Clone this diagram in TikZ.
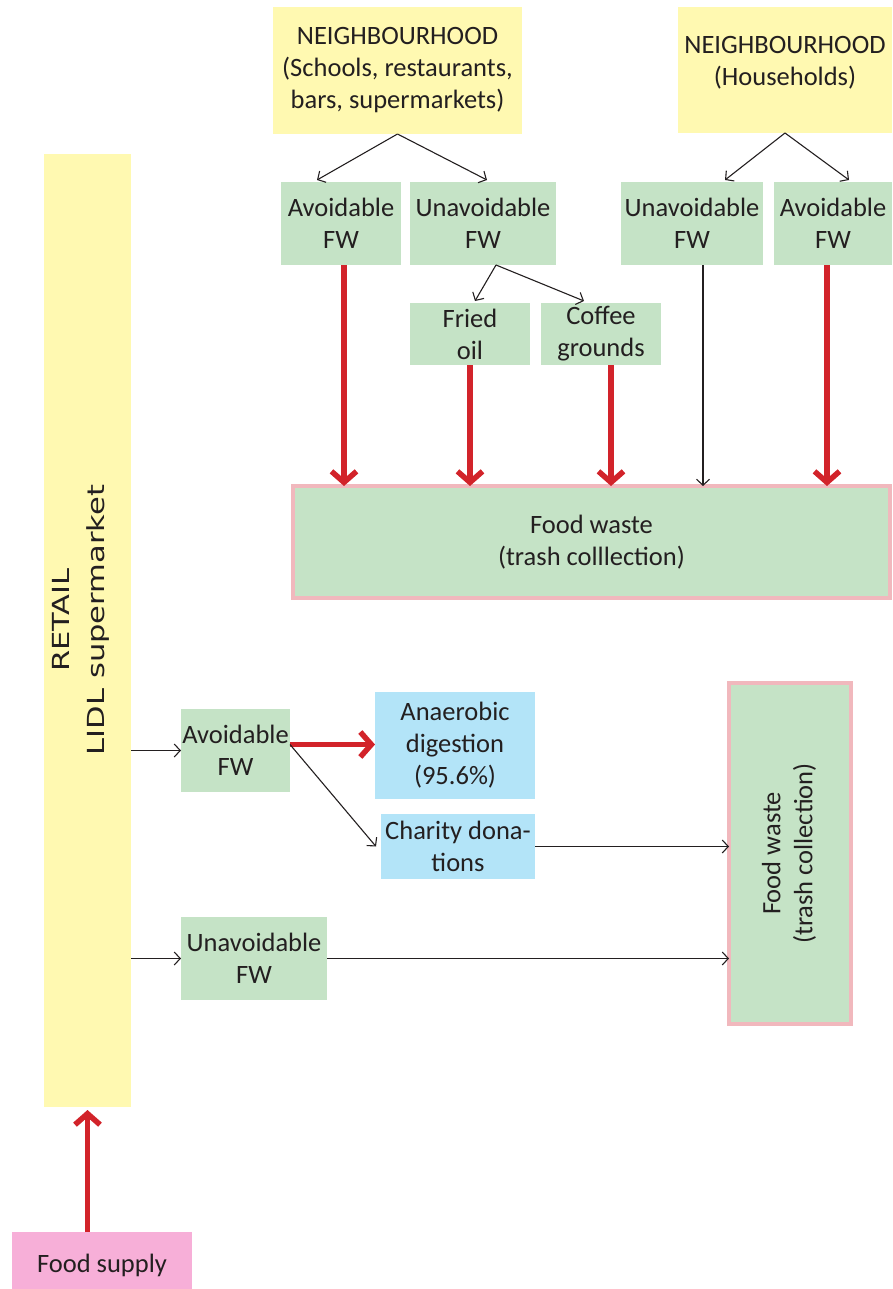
\documentclass[tikz,border=0pt]{standalone}
\usepackage{fontspec}
\setmainfont{Carlito}
\newfontfamily\retailfont[FakeStretch=1.3]{DejaVu Sans}
\usetikzlibrary{arrows.meta,calc}
\definecolor{cyellow}{HTML}{FFF9B1}
\definecolor{cgreen}{HTML}{C5E3C6}
\definecolor{cblue}{HTML}{B3E4F8}
\definecolor{cpink}{HTML}{F7AFD8}
\definecolor{cborder}{HTML}{F1B8BD}
\definecolor{cred}{HTML}{D2232A}
\definecolor{ctext}{HTML}{231F20}
\begin{document}
\begin{tikzpicture}[x=1pt,y=-1pt,
  every node/.style={inner sep=0pt,outer sep=0pt,text=ctext,font=\fontsize{26.5}{32}\selectfont,align=center},
  box/.style={rectangle},
  ybox/.style={box,fill=cyellow},
  gbox/.style={box,fill=cgreen},
  bbox/.style={box,fill=cblue},
  pbox/.style={box,fill=cpink},
  wastebox/.style={box,fill=cgreen,draw=cborder,line width=4pt},
  thin/.style={draw=ctext,line width=1.1pt,-{Straight Barb[length=6pt,width=13pt]}},
  thick/.style={draw=cred,line width=5.5pt,-{Straight Barb[length=11pt,width=25pt]}}
]
\useasboundingbox (0,0) rectangle (892,1289);

% top
\node[ybox,minimum width=249pt,minimum height=127pt] (n1) at (397.5,70.5) {NEIGHBOURHOOD\\(Schools, restaurants,\\bars, supermarkets)};
\node[ybox,minimum width=214pt,minimum height=126pt] (n2) at (785,70) {};
\node (n2t) at (785,63) {NEIGHBOURHOOD\\(Households)};

\node[gbox,minimum width=120pt,minimum height=83pt] (a1) at (341,223.5) {Avoidable\\FW};
\node[gbox,minimum width=146pt,minimum height=83pt] (u1) at (483,223.5) {Unavoidable\\FW};
\node[gbox,minimum width=142pt,minimum height=83pt] (u2) at (692,223.5) {Unavoidable\\FW};
\node[gbox,minimum width=118pt,minimum height=83pt] (a2) at (833,223.5) {Avoidable\\FW};

\node[gbox,minimum width=120pt,minimum height=62pt] (fo) at (470,334) {Fried\\oil};
\node[gbox,minimum width=120pt,minimum height=62pt] (cg) at (601,334) {Coffee\\grounds};

\node[wastebox,minimum width=597pt,minimum height=112pt] (fw1) at (591.5,542) {Food waste\\(trash colllection)};

% retail
\node[ybox,minimum width=87pt,minimum height=953pt] (retail) at (87.5,630.5) {};
\node[font=\retailfont\fontsize{23.5}{35}\selectfont] (retailt) at (80,620) {\rotatebox{90}{\begin{tabular}{@{}c@{}}RETAIL\\LIDL supermarket\end{tabular}}};

\node[gbox,minimum width=109pt,minimum height=83pt] (a3) at (235.5,750.5) {Avoidable\\FW};
\node[bbox,minimum width=160pt,minimum height=107pt] (ad) at (455,745.5) {Anaerobic\\digestion\\(95.6\%)};
\node[bbox,minimum width=154pt,minimum height=65pt] (ch) at (458,846.5) {Charity dona-\\tions};
\node[gbox,minimum width=146pt,minimum height=83pt] (u3) at (254,958.5) {Unavoidable\\FW};

\node[wastebox,minimum width=122pt,minimum height=341pt] (fw2) at (790,853.5) {\rotatebox{90}{\begin{tabular}{@{}c@{}}Food waste\\(trash collection)\end{tabular}}};

\node[pbox,minimum width=180pt,minimum height=57pt] (fs) at (102,1260.5) {};
\node (fst) at (102,1265) {Food supply};

% helper points
\coordinate (s1) at ($(a1.south)+(3,0)$);
\coordinate (s2) at (fo.south);
\coordinate (s3) at ($(cg.south)+(10,0)$);
\coordinate (s4) at ($(u2.south)+(11,0)$);
\coordinate (s5) at ($(a2.south)+(-6,0)$);
\coordinate (u1b) at ($(u1.south)+(13,0)$);
\coordinate (a3r) at ($(a3.east)+(0,-6)$);

% connectors top
\draw[thin] (n1.south) -- ($(a1.north)+(-24,-2)$);
\draw[thin] (n1.south) -- ($(u1.north)+(4,-2)$);
\draw[thin] (n2.south) -- ($(u2.north)+(33,-2)$);
\draw[thin] (n2.south) -- ($(a2.north)+(16,-2)$);
\draw[thin] (u1b) -- ($(fo.north)+(5,-2)$);
\draw[thin] (u1b) -- ($(cg.north)+(-17,-2)$);

\draw[thick] (s1) -- (s1 |- fw1.north);
\draw[thick] (s2) -- (s2 |- fw1.north);
\draw[thick] (s3) -- (s3 |- fw1.north);
\draw[thin]  (s4) -- (s4 |- fw1.north);
\draw[thick] (s5) -- (s5 |- fw1.north);

% connectors retail
\draw[thin] (retail.east |- a3.west) -- (a3.west);
\draw[thin] (retail.east |- u3.west) -- (u3.west);
\draw[thick] (a3r) -- (a3r -| ad.west);
\draw[thin] (a3r) -- ($(ch.west)+(-5,0)$);
\draw[thin] (ch.east) -- (ch.east -| fw2.west);
\draw[thin] (u3.east) -- (u3.east -| fw2.west);
\draw[thick] (fs.north -| retail.south) -- ($(retail.south)+(0,3)$);
\end{tikzpicture}
\end{document}
